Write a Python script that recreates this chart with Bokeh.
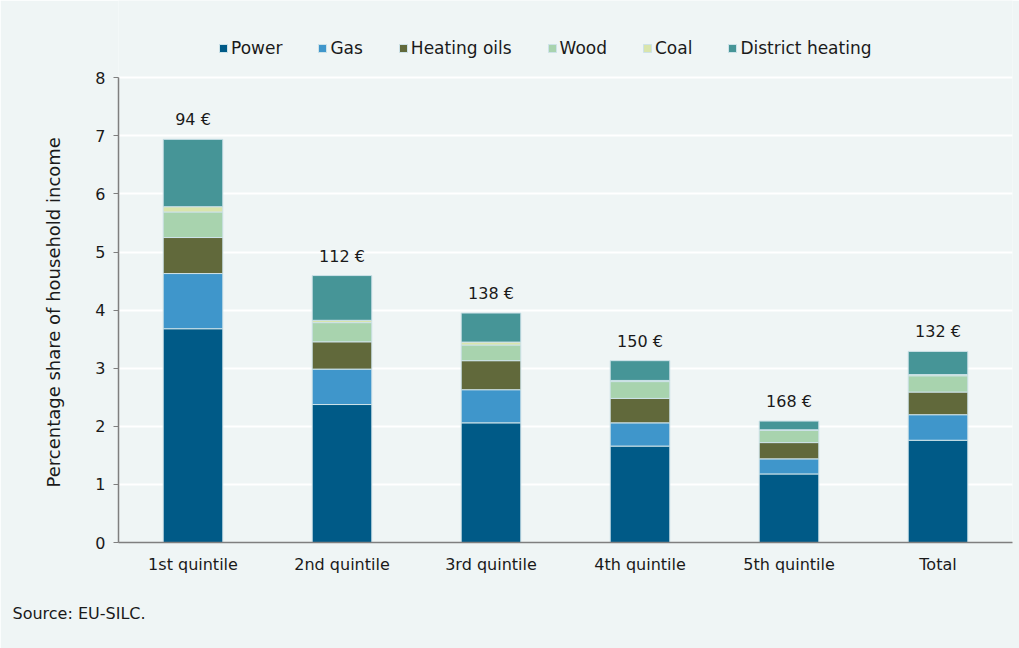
from bokeh.plotting import figure
from bokeh.models import ColumnDataSource, Legend, LegendItem, Title
from bokeh.embed import file_html
from bokeh.resources import INLINE
from bokeh.core.properties import value

categories = ["1st quintile", "2nd quintile", "3rd quintile", "4th quintile", "5th quintile", "Total"]
power = [3.68, 2.375, 2.06, 1.66, 1.18, 1.76]
gas = [0.95, 0.61, 0.57, 0.40, 0.26, 0.44]
heating_oils = [0.62, 0.47, 0.50, 0.42, 0.28, 0.39]
wood = [0.44, 0.33, 0.27, 0.29, 0.21, 0.28]
coal = [0.09, 0.04, 0.05, 0.02, 0.01, 0.02]
district_heating = [1.16, 0.77, 0.50, 0.34, 0.15, 0.40]
euro_labels = ["94 €", "112 €", "138 €", "150 €", "168 €", "132 €"]

series = ["Power", "Gas", "Heating oils", "Wood", "Coal", "District heating"]
colors = ["#005a87", "#3f96cb", "#61693b", "#a8d3ae", "#d9e5ac", "#469597"]
FONT = "DejaVu Sans"
BG = "#eff5f5"
TXT = "#1a1a1a"

data = {"cat": categories, "Power": power, "Gas": gas, "Heating oils": heating_oils,
        "Wood": wood, "Coal": coal, "District heating": district_heating}
totals = [sum(v) for v in zip(power, gas, heating_oils, wood, coal, district_heating)]
lab_src = ColumnDataSource(dict(cat=categories, y=totals, txt=euro_labels))
src = ColumnDataSource(data)

p = figure(x_range=categories, y_range=(0, 9.33), width=1019, height=648,
           output_backend="svg", toolbar_location=None,
           background_fill_color=BG, border_fill_color=BG,
           min_border_left=118, min_border_right=7, min_border_top=0, min_border_bottom=106)
p.outline_line_color = None

renderers = p.vbar_stack(series, x="cat", width=0.4, source=src, color=colors,
                         line_color="#cde2e8", line_width=1)

p.text(x="cat", y="y", text="txt", source=lab_src, text_align="center",
       text_baseline="bottom", y_offset=-10, text_font=value(FONT),
       text_font_size="16px", text_color=TXT)

p.xgrid.grid_line_color = None
p.ygrid.grid_line_color = "white"
p.ygrid.grid_line_width = 2
p.ygrid.bounds = (0, 8)

p.yaxis.ticker = list(range(0, 9))
p.yaxis.bounds = (0, 8)
for ax in (p.xaxis[0], p.yaxis[0]):
    ax.axis_line_color = "#7f7f7f"
    ax.axis_line_width = 1.5
    ax.major_label_text_font = FONT
    ax.major_label_text_font_size = "16px"
    ax.major_label_text_color = TXT
    ax.minor_tick_line_color = None
p.yaxis.major_tick_line_color = "#7f7f7f"
p.yaxis.major_tick_in = 0
p.yaxis.major_tick_out = 5
p.yaxis.major_label_standoff = 8
p.xaxis.major_tick_line_color = None
p.xaxis.major_label_standoff = 6

ytitle = Title(text="Percentage share of household income", align="left",
               text_font=FONT, text_font_size="18px", text_font_style="normal",
               text_color=TXT, offset=55, standoff=58)
p.add_layout(ytitle, "left")

items = [LegendItem(label=s, renderers=[r]) for s, r in zip(series, renderers)]
legend = Legend(items=items, orientation="horizontal", location=(100, 484),
                background_fill_alpha=0, border_line_alpha=0,
                label_text_font=FONT, label_text_font_size="17px",
                label_text_color=TXT, glyph_width=10, glyph_height=10,
                spacing=35, label_standoff=3, margin=0, padding=0)
p.add_layout(legend, "center")

src_title = Title(text="Source: EU-SILC.", align="left", text_font=FONT,
                  text_font_size="16px", text_font_style="normal", text_color=TXT,
                  offset=-106, standoff=51, vertical_align="bottom")
p.add_layout(src_title, "below")

open("out.html", "w").write(file_html(p, INLINE))
